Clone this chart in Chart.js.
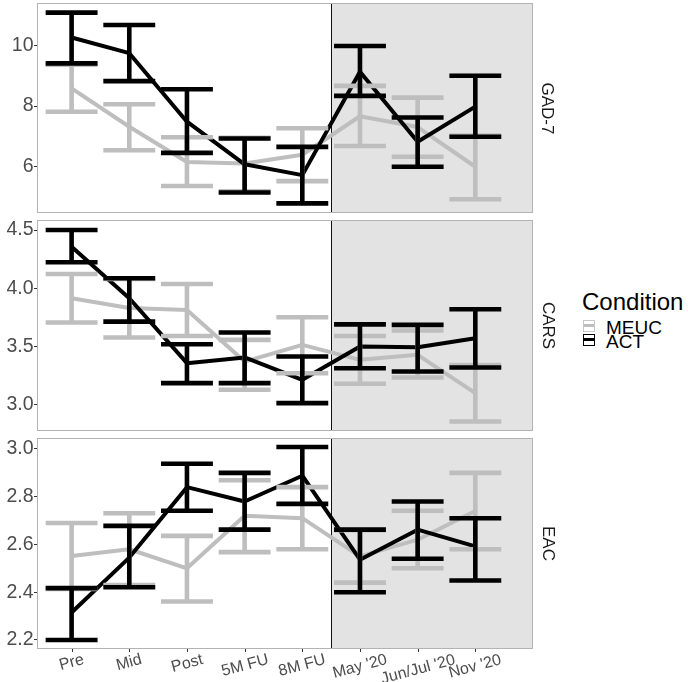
<!DOCTYPE html>
<html><head><meta charset="utf-8">
<script src="https://cdn.jsdelivr.net/npm/chart.js@4.4.1/dist/chart.umd.min.js"></script>
<style>
html,body{margin:0;padding:0;background:#fff;}
#wrap{position:relative;width:688px;height:682px;overflow:hidden;background:#fff;font-family:"Liberation Sans",Arial,sans-serif;}
canvas{position:absolute;left:0;}
.strip{position:absolute;font-size:17px;line-height:1;color:#1a1a1a;white-space:nowrap;transform:rotate(90deg);transform-origin:center center;}
.xl{position:absolute;font-size:16px;line-height:1;color:#4d4d4d;white-space:nowrap;transform:rotate(-15deg);transform-origin:center center;}
.legtitle{position:absolute;font-size:24px;line-height:1;color:#000;white-space:nowrap;}
.leglab{position:absolute;font-size:19px;line-height:1;color:#000;white-space:nowrap;}
.key{position:absolute;box-sizing:border-box;}
.keybar{position:absolute;left:0;right:0;}
</style></head>
<body><div id="wrap"></div>
<script>
// ---------- data ----------
const categories = ["Pre", "Mid", "Post", "5M FU", "8M FU", "May '20", "Jun/Jul '20", "Nov '20"];
const conditions = ["MEUC", "ACT"];
const panelNames = ["GAD-7", "CARS", "EAC"];
const shadeStart = 4.5; // boundary between 8M FU and May '20

// GAD-7
const gadMeucMean = [8.59, 7.31, 6.14, 6.09, 6.38, 7.66, 7.30, 5.98];
const gadMeucLow  = [7.81, 6.53, 5.34, 5.16, 5.50, 6.67, 6.31, 4.90];
const gadMeucHigh = [9.38, 8.06, 6.96, 6.94, 7.26, 8.67, 8.28, 7.02];
const gadActMean  = [10.28, 9.76, 7.48, 6.06, 5.70, 9.14, 6.81, 7.98];
const gadActLow   = [9.42, 8.83, 6.44, 5.12, 4.76, 8.34, 5.98, 6.98];
const gadActHigh  = [11.11, 10.70, 8.56, 6.92, 6.64, 10.00, 7.62, 9.01];
const gadTicks = [6, 8, 10];
const gadTickLabels = ["6", "8", "10"];
const gadRange = [4.44, 11.43];

// CARS
const carsMeucMean = [3.914, 3.83, 3.814, 3.371, 3.514, 3.386, 3.429, 3.10];
const carsMeucLow  = [3.706, 3.577, 3.591, 3.129, 3.271, 3.18, 3.234, 2.857];
const carsMeucHigh = [4.123, 4.08, 4.037, 3.557, 3.751, 3.591, 3.637, 3.34];
const carsActMean  = [4.357, 3.914, 3.357, 3.406, 3.214, 3.50, 3.494, 3.571];
const carsActLow   = [4.223, 3.714, 3.186, 3.186, 3.014, 3.314, 3.286, 3.32];
const carsActHigh  = [4.50, 4.086, 3.52, 3.62, 3.414, 3.69, 3.686, 3.82];
const carsTicks = [3.0, 3.5, 4.0, 4.5];
const carsTickLabels = ["3.0", "3.5", "4.0", "4.5"];
const carsRange = [2.775, 4.586];

// EAC
const eacMeucMean = [2.552, 2.58, 2.50, 2.72, 2.71, 2.55, 2.62, 2.74];
const eacMeucLow  = [2.414, 2.43, 2.361, 2.568, 2.58, 2.44, 2.50, 2.58];
const eacMeucHigh = [2.69, 2.731, 2.636, 2.869, 2.84, 2.66, 2.741, 2.90];
const eacActMean  = [2.315, 2.545, 2.84, 2.78, 2.888, 2.536, 2.662, 2.592];
const eacActLow   = [2.20, 2.421, 2.741, 2.662, 2.77, 2.40, 2.54, 2.449];
const eacActHigh  = [2.417, 2.678, 2.938, 2.90, 3.008, 2.662, 2.78, 2.71];
const eacTicks = [2.2, 2.4, 2.6, 2.8, 3.0];
const eacTickLabels = ["2.2", "2.4", "2.6", "2.8", "3.0"];
const eacRange = [2.162, 3.046];

// ---------- styling ----------
const FONT = '"Liberation Sans", Arial, sans-serif';
const colMeuc = '#bebebe';
const colAct = '#000000';
const wrap = document.getElementById('wrap');

const panels = [
  {name: panelNames[0], meuc: [gadMeucMean, gadMeucLow, gadMeucHigh], act: [gadActMean, gadActLow, gadActHigh],
   ticks: gadTicks, labels: gadTickLabels, range: gadRange, top: 0, h: 216, padTop: 3, padBottom: 3, bottom: false},
  {name: panelNames[1], meuc: [carsMeucMean, carsMeucLow, carsMeucHigh], act: [carsActMean, carsActLow, carsActHigh],
   ticks: carsTicks, labels: carsTickLabels, range: carsRange, top: 217, h: 217, padTop: 3, padBottom: 3, bottom: false},
  {name: panelNames[2], meuc: [eacMeucMean, eacMeucLow, eacMeucHigh], act: [eacActMean, eacActLow, eacActHigh],
   ticks: eacTicks, labels: eacTickLabels, range: eacRange, top: 435, h: 247, padTop: 3, padBottom: 33, bottom: true}
];

function pts(arr) { return arr.map((v, i) => ({x: i, y: v})); }

function makePanel(p) {
  const canvas = document.createElement('canvas');
  canvas.width = 540; canvas.height = p.h;
  canvas.style.width = '540px'; canvas.style.height = p.h + 'px';
  canvas.style.top = p.top + 'px';
  wrap.appendChild(canvas);

  const plugin = {
    id: 'panelDeco',
    beforeDatasetsDraw(chart) {
      const {ctx, chartArea: a, scales: {x}} = chart;
      const xs = x.getPixelForValue(shadeStart);
      ctx.save();
      ctx.fillStyle = '#e3e3e3';
      ctx.fillRect(xs, a.top, a.right - xs, a.bottom - a.top);
      ctx.strokeStyle = '#111';
      ctx.lineWidth = 1;
      ctx.beginPath();
      ctx.moveTo(Math.round(xs) + 0.5, a.top);
      ctx.lineTo(Math.round(xs) + 0.5, a.bottom);
      ctx.stroke();
      ctx.restore();
    },
    afterDatasetsDraw(chart) {
      const {ctx, chartArea: a, scales: {x, y}} = chart;
      const half = (x.getPixelForValue(0.45) - x.getPixelForValue(0));
      ctx.save();
      ctx.beginPath();
      ctx.rect(a.left, a.top, a.right - a.left, a.bottom - a.top);
      ctx.clip();
      ctx.lineWidth = 4.6;
      ctx.lineCap = 'butt';
      [[p.meuc, colMeuc], [p.act, colAct]].forEach(([ser, col]) => {
        ctx.strokeStyle = col;
        const low = ser[1], high = ser[2];
        for (let i = 0; i < categories.length; i++) {
          const xp = x.getPixelForValue(i);
          const yl = y.getPixelForValue(low[i]);
          const yh = y.getPixelForValue(high[i]);
          ctx.beginPath();
          ctx.moveTo(xp, yl); ctx.lineTo(xp, yh);
          ctx.moveTo(xp - half, yl); ctx.lineTo(xp + half, yl);
          ctx.moveTo(xp - half, yh); ctx.lineTo(xp + half, yh);
          ctx.stroke();
        }
      });
      ctx.restore();
      // panel border
      ctx.save();
      ctx.strokeStyle = '#b3b3b3';
      ctx.lineWidth = 1;
      ctx.strokeRect(Math.round(a.left) + 0.5, Math.round(a.top) + 0.5,
                     Math.round(a.right - a.left) - 1, Math.round(a.bottom - a.top) - 1);
      if (p.bottom) {
        ctx.strokeStyle = '#333';
        ctx.beginPath();
        for (let i = 0; i < categories.length; i++) {
          const xp = Math.round(x.getPixelForValue(i)) + 0.5;
          ctx.moveTo(xp, a.bottom); ctx.lineTo(xp, a.bottom + 3);
        }
        ctx.stroke();
      }
      ctx.restore();
    }
  };

  return new Chart(canvas, {
    type: 'line',
    data: {
      datasets: [
        {label: conditions[1], data: pts(p.act[0]), borderColor: colAct, borderWidth: 4,
         pointRadius: 0, tension: 0, fill: false, order: 0, borderCapStyle: 'butt', borderJoinStyle: 'round'},
        {label: conditions[0], data: pts(p.meuc[0]), borderColor: colMeuc, borderWidth: 4,
         pointRadius: 0, tension: 0, fill: false, order: 1, borderCapStyle: 'butt', borderJoinStyle: 'round'}
      ]
    },
    options: {
      responsive: false, animation: false, devicePixelRatio: 1,
      layout: {padding: {left: 0, right: 7, top: p.padTop, bottom: p.padBottom}},
      plugins: {legend: {display: false}, tooltip: {enabled: false}},
      scales: {
        x: {type: 'linear', min: -0.6, max: 8.0, display: false},
        y: {
          min: p.range[0], max: p.range[1],
          afterBuildTicks: s => { s.ticks = p.ticks.map(v => ({value: v})); },
          afterFit: s => { s.width = 37; s.paddingTop = 0; s.paddingBottom = 0; s.paddingLeft = 0; s.paddingRight = 0; },
          ticks: {
            callback: (v) => { const k = p.ticks.findIndex(t => Math.abs(t - v) < 1e-9); return k >= 0 ? p.labels[k] : ''; },
            font: {family: FONT, size: 19.5}, color: '#4d4d4d', padding: 0.5
          },
          grid: {drawOnChartArea: false, drawTicks: true, tickLength: 3, color: '#333', lineWidth: 1},
          border: {display: false}
        }
      }
    },
    plugins: [plugin]
  });
}

const charts = panels.map(makePanel);

// strip labels
charts.forEach((ch, i) => {
  const a = ch.chartArea;
  const cy = panels[i].top + (a.top + a.bottom) / 2;
  const d = document.createElement('div');
  d.className = 'strip';
  d.textContent = panels[i].name;
  wrap.appendChild(d);
  const w = d.offsetWidth, h = d.offsetHeight;
  d.style.left = (548 - w / 2) + 'px';
  d.style.top = (cy - h / 2) + 'px';
});

// x labels from bottom chart's scale
(function () {
  const ch = charts[2];
  const x = ch.scales.x;
  const topY = 651;
  const ang = 15 * Math.PI / 180;
  categories.forEach((c, i) => {
    const d = document.createElement('div');
    d.className = 'xl';
    d.textContent = c;
    wrap.appendChild(d);
    const w = d.offsetWidth, h = d.offsetHeight;
    const H = w * Math.sin(ang) + h * Math.cos(ang);
    const cx = x.getPixelForValue(i);
    const cy = topY + H / 2;
    d.style.left = (cx - w / 2) + 'px';
    d.style.top = (cy - h / 2) + 'px';
  });
})();

// legend
(function () {
  const t = document.createElement('div');
  t.className = 'legtitle';
  t.textContent = 'Condition';
  t.style.left = '582px'; t.style.top = '290px';
  wrap.appendChild(t);
  const items = [[conditions[0], '#c8c8c8', colMeuc, 320], [conditions[1], '#000', colAct, 334]];
  items.forEach(([lab, bc, col, top]) => {
    const k = document.createElement('div');
    k.className = 'key';
    k.style.left = '583px'; k.style.top = top + 'px';
    k.style.width = '12px'; k.style.height = '12px';
    k.style.border = '1.5px solid ' + bc;
    const b = document.createElement('div');
    b.className = 'keybar';
    b.style.top = '3px'; b.style.height = '3px'; b.style.background = col;
    k.appendChild(b);
    wrap.appendChild(k);
    const l = document.createElement('div');
    l.className = 'leglab';
    l.textContent = lab;
    l.style.left = '606px'; l.style.top = (top - 2) + 'px';
    wrap.appendChild(l);
  });
})();
</script>
</body></html>
